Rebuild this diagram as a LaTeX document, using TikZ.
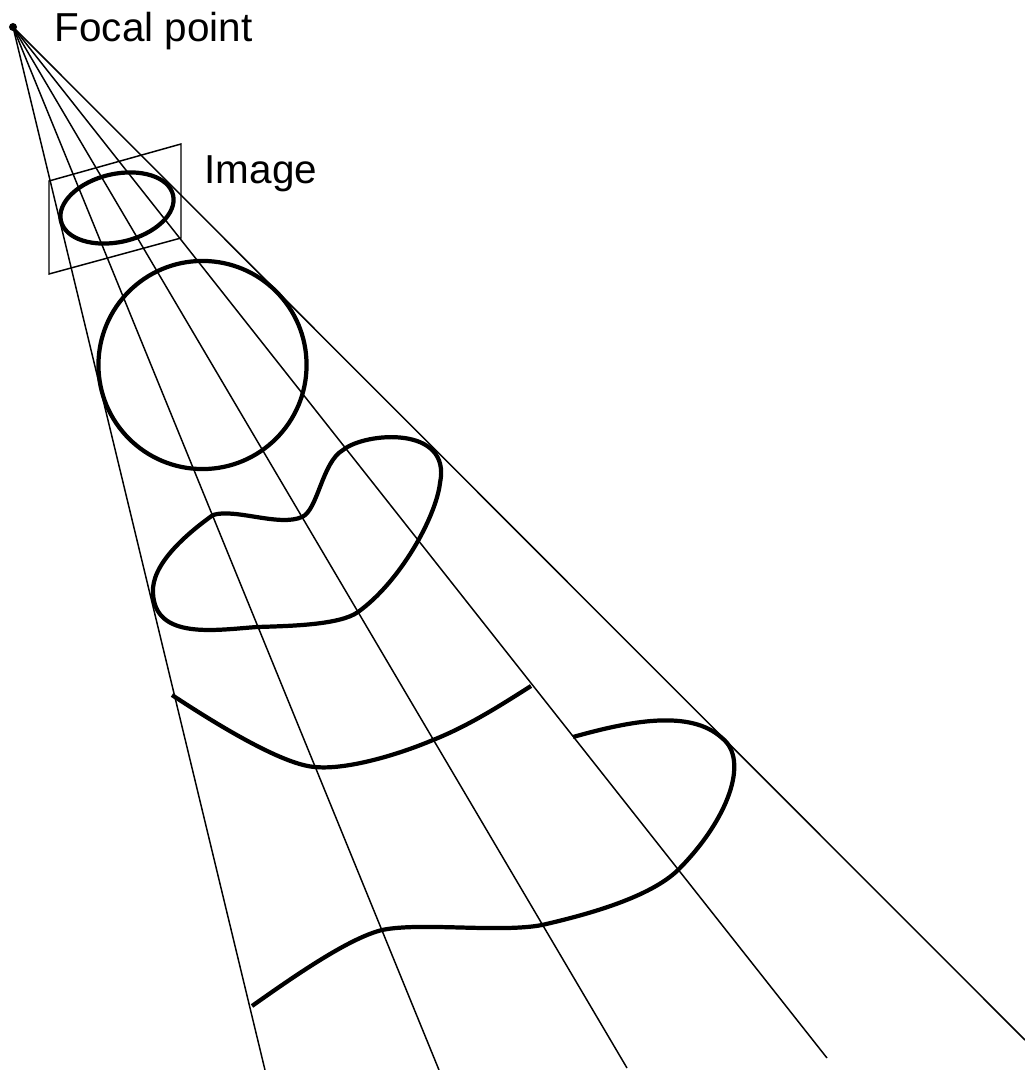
\documentclass[tikz,border=0pt]{standalone}
\usepackage{fontspec}
\setmainfont{Liberation Sans}
\usetikzlibrary{positioning}

\begin{document}
\begin{tikzpicture}[
  x=0.01cm,y=-0.01cm,
  font=\fontsize{11.5}{14}\selectfont,
  ray/.style={draw=black,line width=0.42pt},
  curve/.style={draw=black,line width=1.2pt,line join=round},
  lbl/.style={anchor=base west,inner sep=0pt},
  focalpt/.style={circle,fill=black,inner sep=0pt,minimum size=0.08cm},
]
\useasboundingbox (0,0) rectangle (1025,1070);
\node[focalpt] (focal) at (13,27) {};
\node[lbl] (lblfocal) at (54,42) {Focal point};
\node[lbl] (lblimage) at (204,184) {Image};
\coordinate (r1) at (265,1070);
\coordinate (r2) at (439,1070);
\coordinate (r3) at (627,1068);
\coordinate (r4) at (827,1058);
\coordinate (r5) at (1025,1040);
\foreach \i in {1,...,5} \draw[ray] (focal.center) -- (r\i);
\draw[ray] (49,181) -- (181,144) -- (181,238) -- (49,274) -- cycle;
\draw[curve] (117,208) ellipse [x radius=0.575cm,y radius=0.34cm,rotate=13];
\draw[curve] (202.5,365) circle [radius=1.04cm];
\draw[curve] (213,515) .. controls (235,508) and (279,527) .. (302,517)
  .. controls (318,510) and (322,462) .. (343,450)
  .. controls (365,432) and (452,425) .. (440,483)
  .. controls (436,517) and (400,582) .. (358,612)
  .. controls (340,625) and (290,626) .. (257,627)
  .. controls (215,630) and (155,640) .. (153,593)
  .. controls (151,565) and (185,535) .. (213,515) -- cycle;
\draw[curve] (172,695) .. controls (225,730) and (285,765) .. (315,767)
  .. controls (345,770) and (395,756) .. (433,740)
  .. controls (468,726) and (498,707) .. (531,686);
\draw[curve] (573,737) .. controls (630,721) and (690,709) .. (722,738)
  .. controls (750,760) and (728,820) .. (678,870)
  .. controls (650,897) and (590,914) .. (542,925)
  .. controls (500,933) and (420,922) .. (382,930)
  .. controls (350,938) and (300,972) .. (252,1006);
\end{tikzpicture}
\end{document}
